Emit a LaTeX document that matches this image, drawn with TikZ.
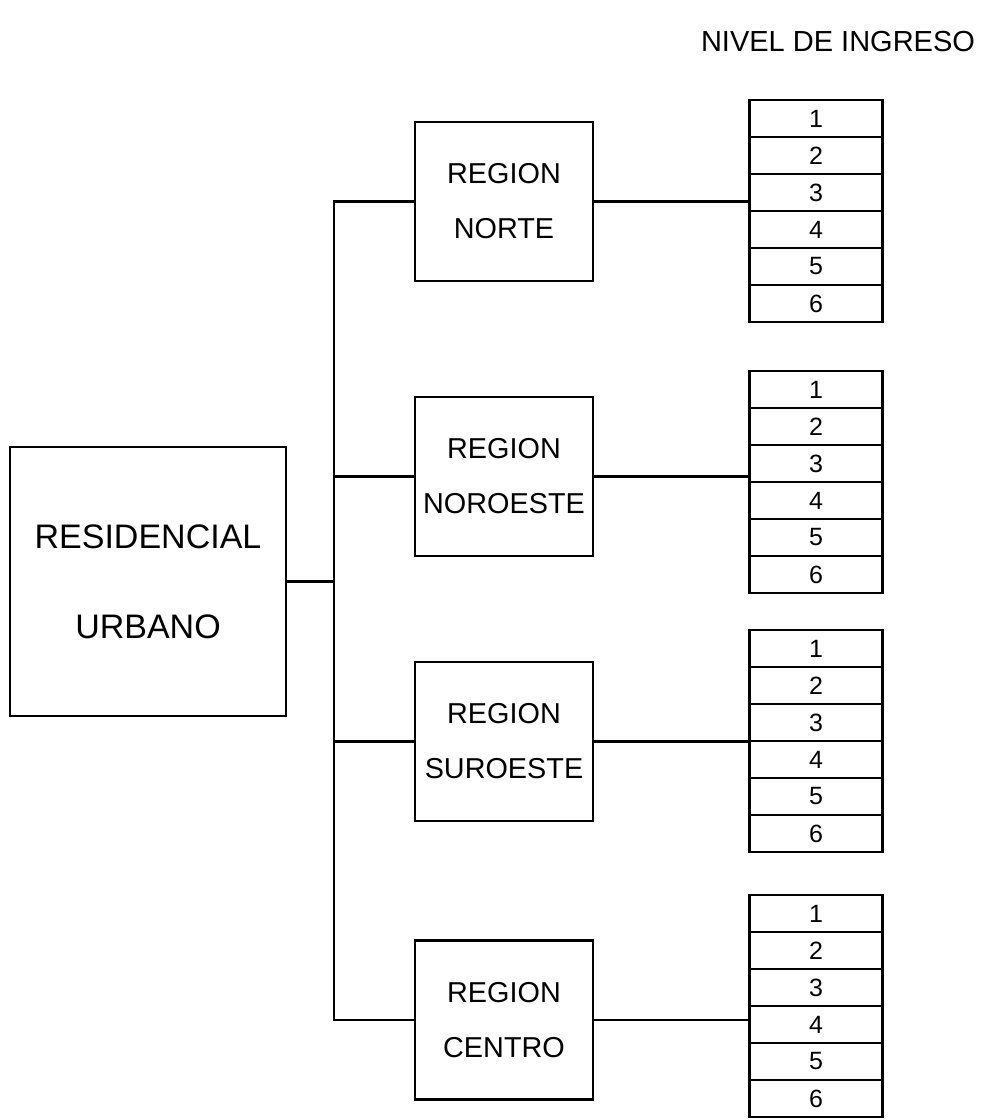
\documentclass[tikz,border=0pt]{standalone}
\usepackage{fontspec}
\setmainfont{Liberation Sans}
\usetikzlibrary{positioning}

\begin{document}
\begin{tikzpicture}[x=0.5pt, y=-0.5pt,
  mbox/.style={draw, line width=1.1pt, minimum width=138pt, minimum height=134.5pt, align=center, inner sep=0pt, font=\fontsize{17}{45}\selectfont},
  rbox/.style={draw, line width=1.1pt, minimum width=89pt, minimum height=79.5pt, align=center, inner sep=0pt, font=\fontsize{14.4}{27.5}\selectfont},
  cell/.style={draw, line width=1.1pt, minimum width=66.5pt, minimum height=18.5pt, inner sep=0pt, font=\fontsize{12.5}{12.5}\selectfont},
  link/.style={line width=1.1pt}
]
  \useasboundingbox (0,0) rectangle (991,1120);

  \node[font=\fontsize{14.5}{14.5}\selectfont] (nivel) at (838, 42) {NIVEL DE INGRESO};

  \node[mbox] (urbano) at (148, 581.5) {RESIDENCIAL\\URBANO};

  \node[rbox] (norte) at (504, 201.5) {REGION\\NORTE};
  \node[rbox] (noroeste) at (504, 476.5) {REGION\\NOROESTE};
  \node[rbox] (suroeste) at (504, 741.5) {REGION\\SUROESTE};
  \node[rbox] (centro) at (504, 1020) {REGION\\CENTRO};

  % niveles de ingreso 1 a 6
  \foreach \reg/\top in {norte/100, noroeste/371, suroeste/630, centro/895}
    \foreach \k in {1,...,6}
      \node[cell] (\reg-\k) at (816, \top+37*\k-18.5) {\k};

  \coordinate (bus) at (334, 0);
  \draw[link] (urbano.east) -- (urbano.east -| bus);
  \draw[link] (norte.west) -- (norte.west -| bus) -- (centro.west -| bus) -- (centro.west);
  \draw[link] (noroeste.west) -- (noroeste.west -| bus);
  \draw[link] (suroeste.west) -- (suroeste.west -| bus);

  \foreach \reg in {norte, noroeste, suroeste, centro}
    \draw[link] (\reg.east) -- (\reg.east -| \reg-1.west);
\end{tikzpicture}
\end{document}
